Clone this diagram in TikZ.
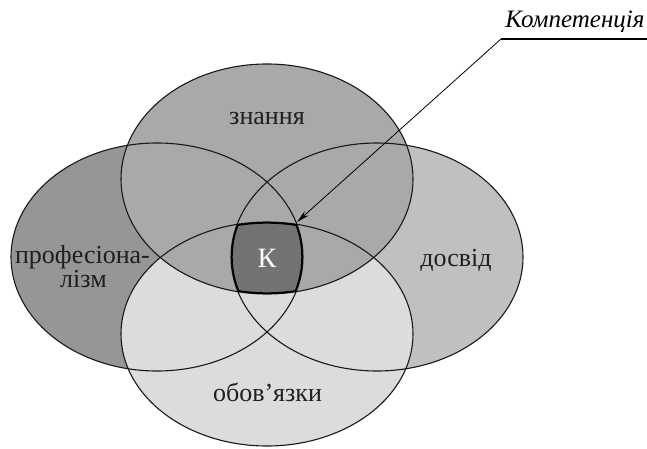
\documentclass[tikz,border=0pt]{standalone}
\usepackage{fontspec}
\setmainfont{Liberation Serif}
\usetikzlibrary{arrows.meta}
\definecolor{cleft}{HTML}{969696}
\definecolor{ctop}{HTML}{A9A9A9}
\definecolor{cright}{HTML}{C0C0C0}
\definecolor{cbottom}{HTML}{DCDCDC}
\definecolor{ccore}{HTML}{737373}
\tikzset{
  lbl/.style={font=\fontsize{26}{22}\selectfont, text=black!88, inner sep=0pt, anchor=base},
  outline/.style={draw=black!90, line width=1.1pt},
  pointer/.style={draw=black, line width=0.8pt},
}
\def\Etop{(267,179) ellipse [x radius=146, y radius=115]}
\def\Ebot{(267,334) ellipse [x radius=146, y radius=112]}
\def\Eleft{(157,257) ellipse [x radius=146, y radius=114]}
\def\Eright{(377,257) ellipse [x radius=146, y radius=114]}
\begin{document}
\begin{tikzpicture}[x=1pt,y=-1pt]
\useasboundingbox (0,0) rectangle (647,449);
% fills
\fill[cleft] \Eleft;
\fill[cright] \Eright;
\fill[cbottom] \Ebot;
\fill[ctop] \Etop;
\begin{scope}
  \clip \Etop; \clip \Ebot; \clip \Eleft;
  \fill[ccore] \Eright;
\end{scope}
% outlines
\draw[outline] \Eleft;
\draw[outline] \Eright;
\draw[outline] \Ebot;
\draw[outline] \Etop;
% thick core border
\begin{scope}
  \clip \Etop; \clip \Ebot; \clip \Eleft; \clip \Eright;
  \draw[black, line width=3.4pt] \Etop;
  \draw[black, line width=3.4pt] \Ebot;
  \draw[black, line width=3.4pt] \Eleft;
  \draw[black, line width=3.4pt] \Eright;
\end{scope}
% labels
\node[lbl] (knowledge) at (267,125) {знання};
\node[lbl] (experience) at (456,266) {досвід};
\node[lbl] (duties) at (267.5,401.5) {обов’язки};
\node[lbl] (prof1) at (82.5,263) {професіона-};
\node[lbl] (prof2) at (83.5,287) {лізм};
\node[lbl, font=\fontsize{28}{28}\selectfont, text=white] (core) at (267,267) {К};
\node[lbl, font=\fontsize{25}{25}\selectfont\itshape, text=black] (comp) at (575,28) {Компетенція};
% pointer
\coordinate (lineend) at (647,39);
\coordinate (bend) at (501,39);
\coordinate (tip) at (297,222);
\draw[pointer, line width=1.3pt] (lineend) -- (bend);
\draw[pointer, -{Stealth[length=13pt,width=6pt]}] (bend) -- (tip);
\end{tikzpicture}
\end{document}
